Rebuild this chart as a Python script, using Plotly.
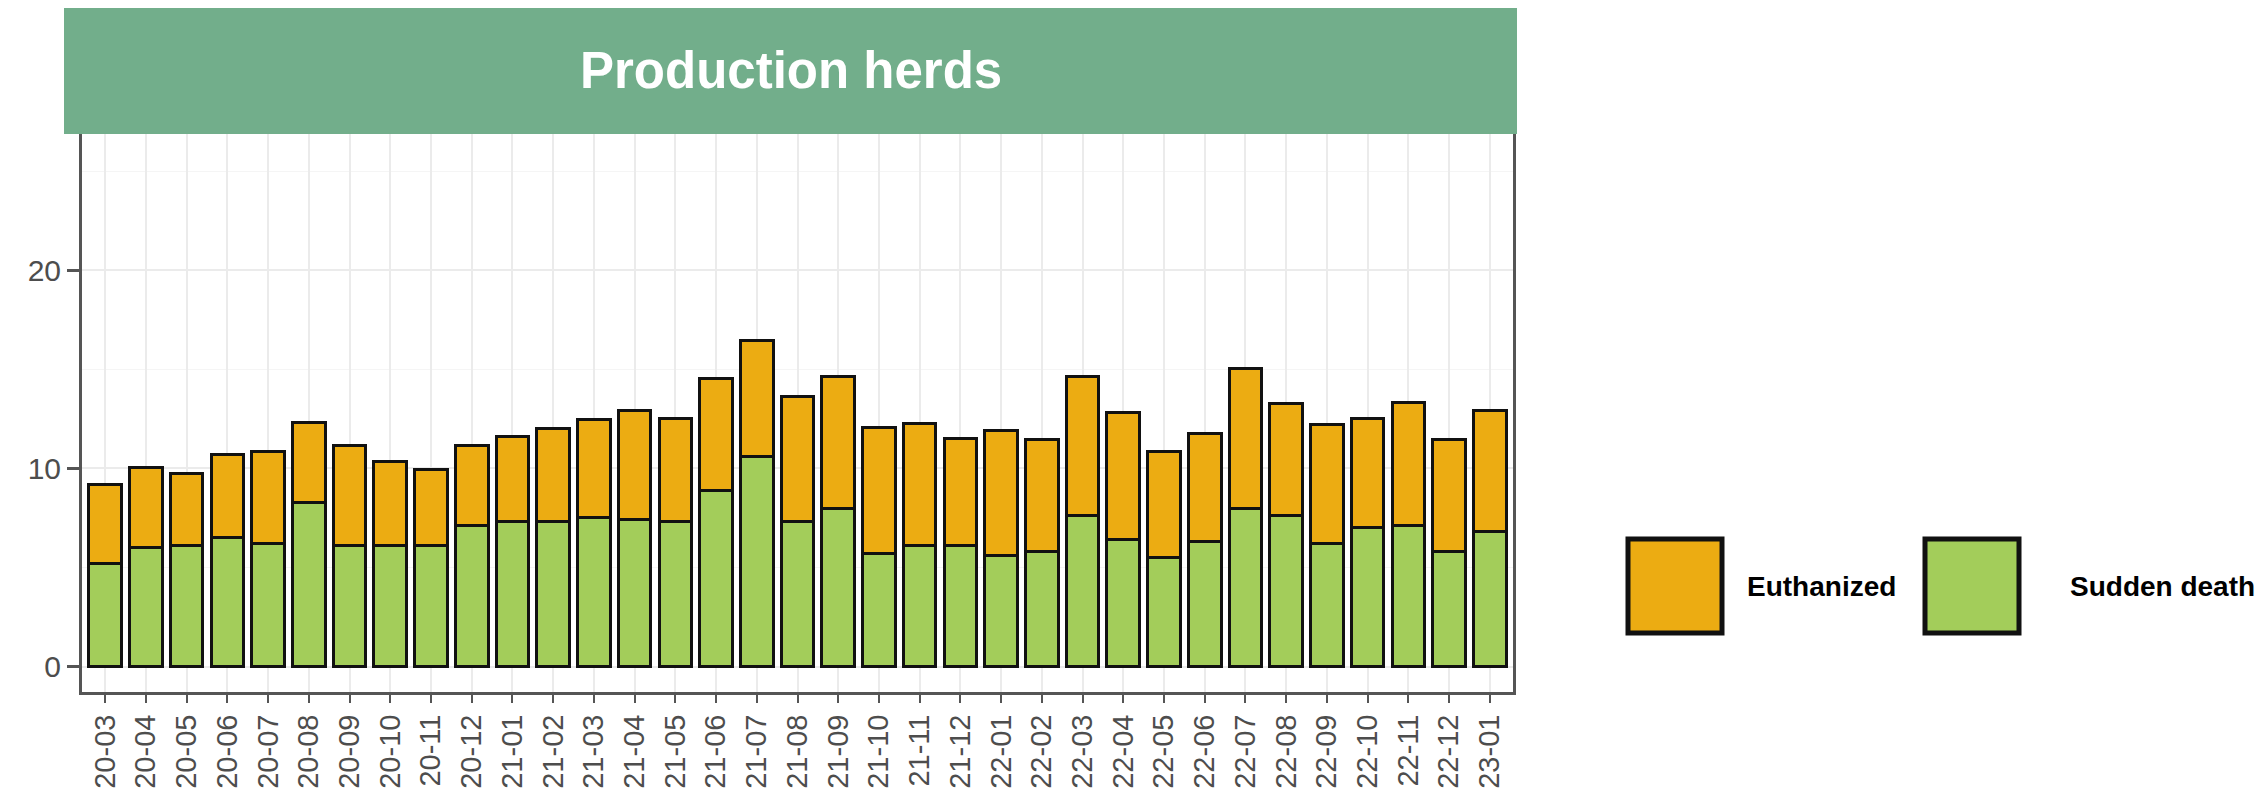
"""Monthly stacked bar chart of deaths in production herds, Plotly version."""

import plotly.graph_objects as go

# Months (yy-mm)
months = [
    "20-03", "20-04", "20-05", "20-06", "20-07", "20-08", "20-09", "20-10",
    "20-11", "20-12", "21-01", "21-02", "21-03", "21-04", "21-05", "21-06",
    "21-07", "21-08", "21-09", "21-10", "21-11", "21-12", "22-01", "22-02",
    "22-03", "22-04", "22-05", "22-06", "22-07", "22-08", "22-09", "22-10",
    "22-11", "22-12", "23-01",
]

# Stacked series (bottom: sudden death, top: euthanized)
sudden_death = [
    5.2, 6.0, 6.1, 6.5, 6.2, 8.3, 6.1, 6.1, 6.1, 7.1, 7.3, 7.3, 7.5, 7.4,
    7.3, 8.9, 10.6, 7.3, 8.0, 5.7, 6.1, 6.1, 5.6, 5.8, 7.6, 6.4, 5.5, 6.3,
    8.0, 7.6, 6.2, 7.0, 7.1, 5.8, 6.8,
]
euthanized = [
    4.0, 4.05, 3.65, 4.2, 4.65, 4.0, 5.05, 4.25, 3.85, 4.05, 4.3, 4.7, 4.95,
    5.5, 5.2, 5.65, 5.85, 6.35, 6.65, 6.35, 6.15, 5.4, 6.3, 5.65, 7.05, 6.4,
    5.35, 5.45, 7.05, 5.65, 6.0, 5.5, 6.2, 5.65, 6.1,
]

y_ticks = [0, 10, 20]

ORANGE = "#ECAC12"
GREEN = "#A3CD5A"
HEADER = "#72AE8B"
TICK_GREY = "#4d4d4d"
FONT = "Liberation Sans, Arial, sans-serif"

# Page body has an 8px margin, so the figure is shifted by that much
OFF = 8
WIN_W, WIN_H = 2265, 795
W, H = WIN_W - OFF, WIN_H - OFF

# Plot area in window pixels
PLOT_L, PLOT_R, PLOT_T, PLOT_B = 82, 1513, 134, 692


def px_x(px):
    return (px - PLOT_L) / (PLOT_R - PLOT_L)


def px_y(py):
    return (PLOT_B - py) / (PLOT_B - PLOT_T)


fig = go.Figure()

fig.add_trace(
    go.Bar(
        x=months,
        y=sudden_death,
        name="Sudden death",
        marker={"color": GREEN, "line": {"color": "#111111", "width": 3}},
        width=0.8,
    )
)
fig.add_trace(
    go.Bar(
        x=months,
        y=euthanized,
        name="Euthanized",
        marker={"color": ORANGE, "line": {"color": "#111111", "width": 3}},
        width=0.8,
    )
)

# Green facet strip with the title
fig.add_shape(
    type="rect",
    xref="paper",
    yref="paper",
    x0=px_x(64),
    x1=px_x(1517),
    y0=px_y(134),
    y1=px_y(3),
    fillcolor=HEADER,
    line={"width": 0},
    layer="above",
)
fig.add_annotation(
    x=px_x(791),
    y=px_y(70),
    xref="paper",
    yref="paper",
    text="<b>Production herds</b>",
    showarrow=False,
    font={"family": FONT, "size": 51, "color": "white"},
    xanchor="center",
    yanchor="middle",
)

# Large legend keys, drawn by hand
legend_items = [
    ("Euthanized", ORANGE, 1628, 1745),
    ("Sudden death", GREEN, 1925, 2068),
]
for label, color, key_left, text_left in legend_items:
    fig.add_shape(
        type="rect",
        xref="paper",
        yref="paper",
        x0=px_x(key_left),
        x1=px_x(key_left + 94),
        y0=px_y(633),
        y1=px_y(539),
        fillcolor=color,
        line={"color": "#111111", "width": 5},
    )
    fig.add_annotation(
        x=px_x(text_left),
        y=px_y(586),
        xref="paper",
        yref="paper",
        text=f"<b>{label}</b>",
        showarrow=False,
        font={"family": FONT, "size": 28, "color": "black"},
        xanchor="left",
        yanchor="middle",
    )

fig.update_layout(
    width=W,
    height=H,
    barmode="stack",
    showlegend=False,
    plot_bgcolor="white",
    paper_bgcolor="white",
    margin={
        "l": PLOT_L - OFF,
        "r": WIN_W - PLOT_R,
        "t": PLOT_T - OFF,
        "b": WIN_H - PLOT_B,
        "autoexpand": False,
    },
    font={"family": FONT, "color": TICK_GREY},
    xaxis={
        "type": "category",
        "range": [-0.57, len(months) - 1 + 0.57],
        "tickangle": -90,
        "tickfont": {"size": 29, "color": TICK_GREY},
        "showgrid": True,
        "gridcolor": "#EBEBEB",
        "gridwidth": 2,
        "showline": True,
        "linecolor": "#555555",
        "linewidth": 3,
        "ticks": "outside",
        "ticklen": 8,
        "tickwidth": 2,
        "tickcolor": "#555555",
        "automargin": False,
    },
    yaxis={
        "range": [-1.28, 26.87],
        "tickvals": y_ticks,
        "tickfont": {"size": 30, "color": TICK_GREY},
        "showgrid": True,
        "gridcolor": "#EBEBEB",
        "gridwidth": 2,
        "minor": {"dtick": 5, "tick0": 0, "showgrid": True, "gridcolor": "#F5F5F5", "gridwidth": 1},
        "zeroline": False,
        "showline": True,
        "mirror": True,
        "linecolor": "#555555",
        "linewidth": 3,
        "ticks": "outside",
        "ticklen": 12,
        "tickwidth": 3,
        "tickcolor": "#555555",
        "automargin": False,
    },
)

fig.write_html("out.html")
